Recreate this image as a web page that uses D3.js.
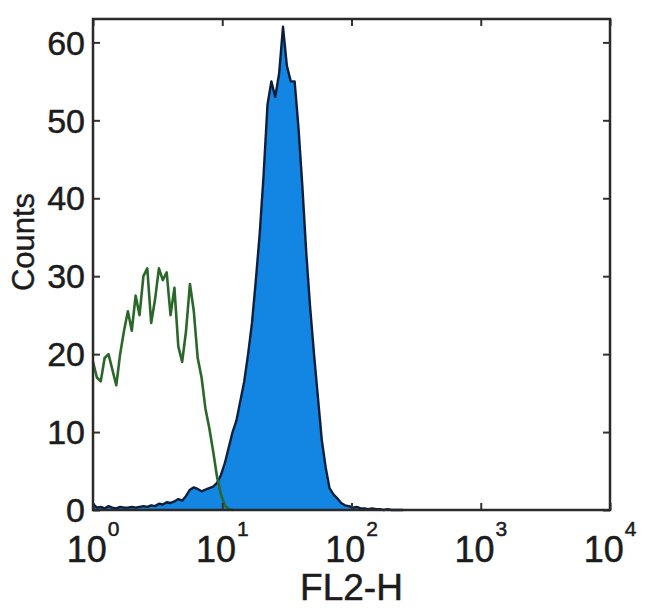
<!DOCTYPE html>
<html><head><meta charset="utf-8">
<script src="https://cdn.jsdelivr.net/npm/d3@7"></script>
<style>body{margin:0;background:#fff}svg{display:block}</style>
</head><body><svg id="c" width="650" height="615"></svg>
<script>
// log10(FL2-H) bin positions
const logFL2 = [0,0.03,0.06,0.09,0.12,0.15,0.18,0.21,0.24,0.27,
0.30,0.33,0.36,0.39,0.42,0.45,0.48,0.51,0.54,0.57,
0.60,0.63,0.66,0.69,0.72,0.75,0.78,0.81,0.84,0.87,
0.90,0.93,0.96,0.99,1.02,1.05,1.08,1.11,1.14,1.17,
1.20,1.23,1.26,1.29,1.32,1.35,1.38,1.41,1.44,1.47,
1.50,1.53,1.56,1.59,1.62,1.65,1.68,1.71,1.74,1.77,
1.80,1.83,1.86,1.89,1.92,1.95,1.98,2.01,2.04,2.07,
2.10,2.13,2.16,2.19,2.22,2.25,2.28,2.31,2.34,2.37,2.40];
// isotype control (green open histogram)
const isotypeCounts = [19,17,16.5,19.5,20,18,16,20,23,25.5,
23,27.5,25,30,31,24,27,31,29.5,30.5,
25,28.5,21,19,23,29,25.5,19.5,17,13,
10.5,7.5,4.2,2,0.6,0.1,0];
// stained sample (blue filled histogram)
const stainedCounts = [0.8,0.3,0.4,0.2,0.5,0.3,0.2,0.4,0.3,0.3,
0.4,0.3,0.4,0.5,0.4,0.6,0.5,0.8,0.7,1.0,
0.9,1.1,1.4,1.2,1.8,2.6,2.9,2.7,2.4,2.6,
2.8,3.0,3.5,4.5,6,8,10,11.5,14,16.5,
20,24,29.5,35.5,43,52,55,53,56,62,
57,55,55,49,41.5,33,26,20,14.5,9,
5.5,2.8,2.0,1.5,0.9,0.6,0.5,0.3,0.4,0.2,
0.2,0.1,0.2,0.1,0.1,0,0.1,0,0,0,0];
const xTickExponents = [0,1,2,3,4];
const yTickValues = [0,10,20,30,40,50,60];
const xTitle = "FL2-H";
const yTitle = "Counts";

const L = 93, R = 610, T = 19, B = 510;
const font = "'Liberation Sans', Arial, Helvetica, sans-serif";
const ink = "#1c1c1c";
const svg = d3.select("#c");
const x = d3.scaleLog().domain([1, 10000]).range([L, R]);
const y = d3.scaleLinear().domain([0, 63]).range([B, T]);

const stained = logFL2.map((e, i) => ({v: Math.pow(10, e), c: stainedCounts[i]}));
const iso = isotypeCounts.map((c, i) => ({v: Math.pow(10, logFL2[i]), c}));

svg.append("path").datum(stained)
  .attr("d", d3.area().x(d => x(d.v)).y0(y(0)).y1(d => y(d.c)))
  .attr("fill", "#1286e2");
svg.append("path").datum(stained)
  .attr("d", d3.line().x(d => x(d.v)).y(d => y(d.c)))
  .attr("fill", "none").attr("stroke", "#0c1e3a").attr("stroke-width", 2.4)
  .attr("stroke-linejoin", "round");
svg.append("path").datum(iso)
  .attr("d", d3.line().x(d => x(d.v)).y(d => y(d.c)))
  .attr("fill", "none").attr("stroke", "#2a682a").attr("stroke-width", 2.6)
  .attr("stroke-linejoin", "round");

const decades = xTickExponents.map(k => Math.pow(10, k));
function style(g) {
  g.select(".domain").remove();
  g.selectAll(".tick line").attr("stroke", "#333").attr("stroke-width", 2);
}
svg.append("g").attr("transform", `translate(0,${B})`)
  .call(d3.axisBottom(x).tickValues(decades).tickSize(-7).tickFormat("")).call(style);
svg.append("g").attr("transform", `translate(0,${T})`)
  .call(d3.axisTop(x).tickValues(decades).tickSize(-7).tickFormat("")).call(style);
svg.append("g").attr("transform", `translate(${L},0)`)
  .call(d3.axisLeft(y).tickValues(yTickValues).tickSize(-7).tickFormat("")).call(style);
svg.append("g").attr("transform", `translate(${R},0)`)
  .call(d3.axisRight(y).tickValues(yTickValues).tickSize(-7).tickFormat("")).call(style);

svg.append("rect").attr("x", L).attr("y", T).attr("width", R - L).attr("height", B - T)
  .attr("fill", "none").attr("stroke", "#2a2a2a").attr("stroke-width", 2.5);

// y tick labels
svg.append("g").selectAll("text").data(yTickValues).join("text")
  .attr("x", L - 8).attr("y", d => y(d)).attr("dy", "0.36em")
  .attr("text-anchor", "end").attr("font-family", font).attr("font-size", 34)
  .attr("fill", ink).attr("stroke", ink).attr("stroke-width", 0.5).text(d => d);

// x tick labels with superscripts
const xl = svg.append("g").selectAll("text").data(xTickExponents).join("text")
  .attr("x", d => x(Math.pow(10, d))).attr("y", 562)
  .attr("text-anchor", "middle").attr("font-family", font)
  .attr("fill", ink).attr("stroke", ink).attr("stroke-width", 0.5);
xl.append("tspan").attr("font-size", 36).text("10");
xl.append("tspan").attr("font-size", 21).attr("dx", 1).attr("dy", -26).text(d => d);

svg.append("text").attr("x", (L + R) / 2).attr("y", 600).attr("text-anchor", "middle")
  .attr("font-family", font).attr("font-size", 37).attr("fill", ink)
  .attr("stroke", ink).attr("stroke-width", 0.5).text(xTitle);
svg.append("text").attr("transform", "translate(34,242) rotate(-90)").attr("text-anchor", "middle")
  .attr("font-family", font).attr("font-size", 31).attr("fill", ink)
  .attr("stroke", ink).attr("stroke-width", 0.4).text(yTitle);
</script></body></html>
